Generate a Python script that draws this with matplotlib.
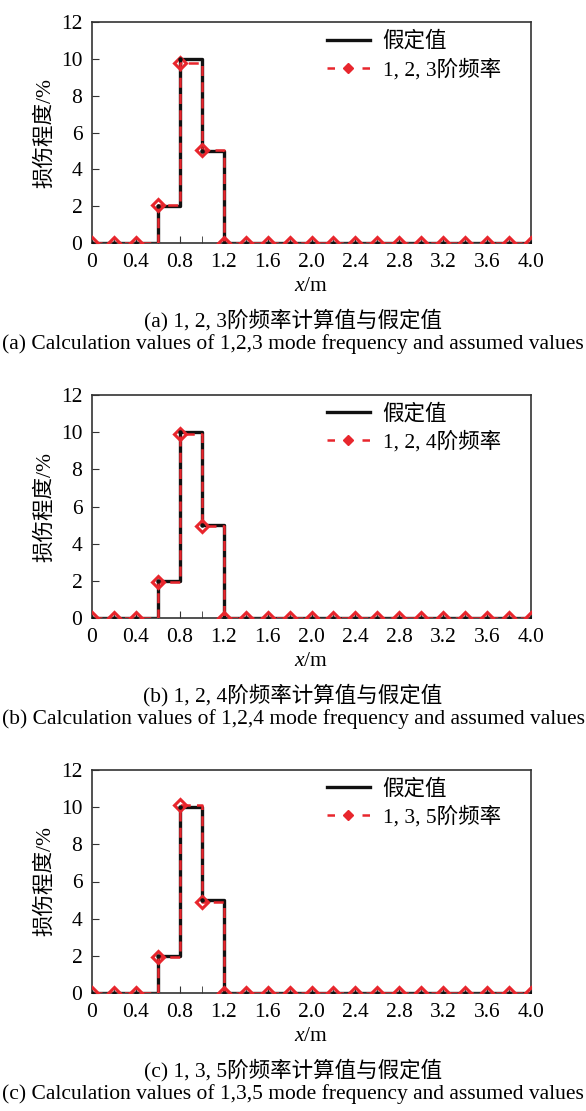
import numpy as np
import matplotlib
matplotlib.use("Agg")
import matplotlib.pyplot as plt
from matplotlib.ticker import MultipleLocator

plt.rcParams['font.family'] = ['Liberation Serif', 'Noto Sans CJK SC']
plt.rcParams['mathtext.fontset'] = 'custom'
plt.rcParams['mathtext.it'] = 'Liberation Serif:italic'
plt.rcParams['mathtext.rm'] = 'Liberation Serif'

# element boundaries along the beam (m)
x = [0.0, 0.2, 0.4, 0.6, 0.8, 1.0, 1.2, 1.4, 1.6, 1.8, 2.0,
     2.2, 2.4, 2.6, 2.8, 3.0, 3.2, 3.4, 3.6, 3.8, 4.0]

# assumed damage (%)
assumed = [0, 0, 0, 2, 10, 5, 0, 0, 0, 0, 0,
           0, 0, 0, 0, 0, 0, 0, 0, 0, 0]

# identified damage (%)
calc_123 = [0, 0, 0, 2.05, 9.8, 5.05, 0, 0, 0, 0, 0,
            0, 0, 0, 0, 0, 0, 0, 0, 0, 0]
calc_124 = [0, 0, 0, 1.95, 9.9, 4.97, 0, 0, 0, 0, 0,
            0, 0, 0, 0, 0, 0, 0, 0, 0, 0]
calc_135 = [0, 0, 0, 1.95, 10.12, 4.9, 0, 0, 0, 0, 0,
            0, 0, 0, 0, 0, 0, 0, 0, 0, 0]

labels = ['1, 2, 3阶频率', '1, 2, 4阶频率', '1, 3, 5阶频率']
captions_cn = ['(a) 1, 2, 3阶频率计算值与假定值',
               '(b) 1, 2, 4阶频率计算值与假定值',
               '(c) 1, 3, 5阶频率计算值与假定值']
captions_en = ['(a) Calculation values of 1,2,3 mode frequency and assumed values',
               '(b) Calculation values of 1,2,4 mode frequency and assumed values',
               '(c) Calculation values of 1,3,5 mode frequency and assumed values']
calcs = [calc_123, calc_124, calc_135]

red = '#e8262d'
fs = 15.5
W, H = 586, 1111
fig = plt.figure(figsize=(W / 100, H / 100), dpi=100)

# pixel positions (top, bottom) of each axes
panels = [(22, 243), (395, 618), (770, 993)]
left, right = 92, 531

for i, (top, bot) in enumerate(panels):
    ax = fig.add_axes([left / W, 1 - bot / H, (right - left) / W, (bot - top) / H])
    ax.step(x, assumed, where='post', color='#111111', lw=2.4, label='假定值', zorder=2)
    ax.plot(x, assumed, ls='none', marker='o', ms=2.2, color='#111111', zorder=4)
    ax.step(x, calcs[i], where='post', color=red, lw=1.8, ls=(0, (4, 2.5)), zorder=3)
    ax.plot(x, calcs[i], ls='none', marker='D', ms=6.5, mfc='none', mec=red, mew=2.2,
            color=red, zorder=3)
    # proxy for legend
    ax.plot([], [], color=red, lw=1.8, ls=(0, (3, 4)), marker='D', ms=5, mfc=red,
            mec=red, label=labels[i])
    ax.set_xlim(0, 4.0)
    ax.set_ylim(0, 12)
    ax.xaxis.set_minor_locator(MultipleLocator(0.2))
    ax.yaxis.set_major_locator(MultipleLocator(2))
    ax.set_xticks(np.arange(0, 4.01, 0.4))
    ax.set_xticklabels(['0'] + ['%.1f' % v for v in np.arange(0.4, 4.01, 0.4)])
    ax.tick_params(which='both', direction='in', labelsize=fs,
                   top=False, right=False, color='#333333')
    ax.tick_params(axis='x', pad=7)
    ax.tick_params(axis='y', pad=7)
    ax.tick_params(which='major', length=5)
    ax.tick_params(which='minor', length=5)
    for s in ax.spines.values():
        s.set_color('#333333')
        s.set_linewidth(1.2)
    ax.set_xlabel(r'$x$/m', fontsize=fs, labelpad=4)
    ax.set_ylabel('损伤程度/%', fontsize=fs, labelpad=4)
    ax.legend(loc='upper right', bbox_to_anchor=(0.975, 1.045), frameon=False,
              fontsize=fs, handlelength=2.0, handletextpad=0.6, labelspacing=0.3)
    fig.text(0.5, 1 - (bot + 77) / H, captions_cn[i], ha='center', va='center', fontsize=fs)
    fig.text(0.5, 1 - (bot + 101) / H, captions_en[i], ha='center', va='center', fontsize=fs)

fig.savefig('out.png', dpi=100)
